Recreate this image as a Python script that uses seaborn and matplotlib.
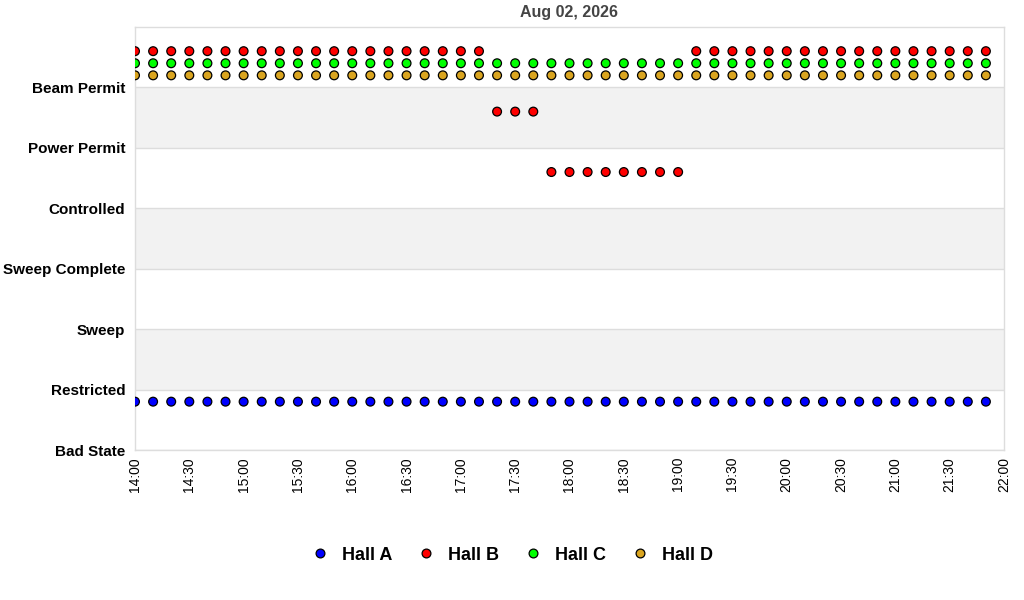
import pandas as pd
import matplotlib.pyplot as plt
import matplotlib.dates as mdates
import seaborn as sns

sns.set_style("white")
plt.rcParams['font.family'] = ['Liberation Sans', 'DejaVu Sans']
plt.rcParams['text.color'] = 'black'
plt.rcParams['xtick.color'] = 'black'
plt.rcParams['ytick.color'] = 'black'

# etats (du bas vers le haut)
states = ["Bad State", "Restricted", "Sweep", "Sweep Complete",
          "Controlled", "Power Permit", "Beam Permit"]

# une mesure toutes les 10 minutes, 14:00 -> 21:50
times = pd.date_range("2026-08-02 14:00", "2026-08-02 21:50", freq="10min")

hall_a = [0] * 48
hall_b = [6] * 20 + [5] * 3 + [4] * 8 + [6] * 17
hall_c = [6] * 48
hall_d = [6] * 48

halls = ["Hall A", "Hall B", "Hall C", "Hall D"]
offsets = {"Hall A": 0.8, "Hall B": 0.6, "Hall C": 0.4, "Hall D": 0.2}
colors = {"Hall A": "#0000FF", "Hall B": "#FF0000", "Hall C": "#00FF00", "Hall D": "#DAA520"}

rows = []
for name, vals in zip(halls, [hall_a, hall_b, hall_c, hall_d]):
    for t, v in zip(times, vals):
        rows.append({"time": t, "state": v + offsets[name], "hall": name})
df = pd.DataFrame(rows)

fig = plt.figure(figsize=(10.24, 6), dpi=100)
ax = fig.add_axes([135 / 1024, 1 - 450 / 600, (1004 - 135) / 1024, (450 - 27) / 600])

# bandes grises alternees
for i in range(len(states)):
    if i % 2 == 1:
        ax.axhspan(i, i + 1, color="#F2F2F2", zorder=0, lw=0)

sns.scatterplot(data=df, x="time", y="state", hue="hall", palette=colors,
                s=40, edgecolor="black", linewidth=0.9, ax=ax, zorder=3)

ax.set_ylim(0, 7)
ax.set_xlim(pd.Timestamp("2026-08-02 14:00"), pd.Timestamp("2026-08-02 22:00"))
ax.set_yticks(range(len(states)))
ax.set_yticklabels(states, fontsize=11, fontweight="bold")
ax.yaxis.grid(True, color="#DDDDDD", lw=1, zorder=1)
ax.set_axisbelow(True)
ax.xaxis.set_major_locator(mdates.MinuteLocator(byminute=[0, 30]))
ax.xaxis.set_major_formatter(mdates.DateFormatter("%H:%M"))
plt.setp(ax.get_xticklabels(), rotation=90, fontsize=10)
ax.tick_params(axis="y", length=0, pad=7)
ax.tick_params(axis="x", length=2, color="#BBBBBB", pad=3)
ax.set_xlabel("")
ax.set_ylabel("")
for sp in ax.spines.values():
    sp.set_color("#DDDDDD")
    sp.set_linewidth(1)

ax.set_title("Aug 02, 2026", fontsize=11.5, fontweight="bold", color="#444444", pad=7)

handles, labels = ax.get_legend_handles_labels()
ax.legend_.remove()
fig.legend(handles, labels, loc="center", bbox_to_anchor=(0.5, 1 - 555 / 600), ncol=4,
           frameon=False, prop={"weight": "bold", "size": 13}, handlelength=1.0,
           handletextpad=0.7, columnspacing=1.4)

fig.savefig("out.png", dpi=100)
